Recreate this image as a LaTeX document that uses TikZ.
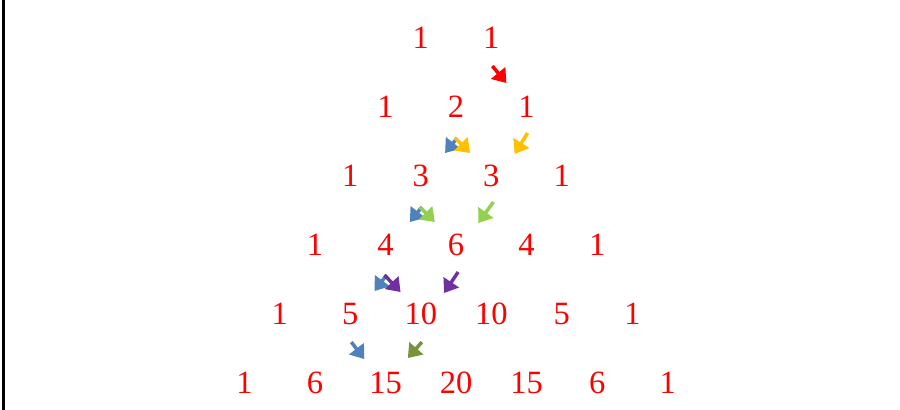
\documentclass[tikz,border=0pt]{standalone}
\usepackage{fontspec}
\setmainfont{Liberation Serif}
\usetikzlibrary{calc,arrows.meta}
\definecolor{arrblue}{HTML}{4F81BD}
\definecolor{arryellow}{HTML}{FFC000}
\definecolor{arrgreen}{HTML}{92D050}
\definecolor{arrpurple}{HTML}{7030A0}
\definecolor{arrolive}{HTML}{77933C}
\begin{document}
\begin{tikzpicture}[
    num/.style={text=red, font=\fontsize{18.5}{22}\selectfont, inner sep=0pt},
    arr/.style={line width=0.07cm, -{Triangle[length=0.26cm, width=0.36cm]}}]
    \useasboundingbox (0,0) rectangle (18,-8.2);
    \draw[line width=0.05cm] (0.07,0) -- (0.07,-8.2);
    % the rows of numbers
    \foreach \row [count=\r from 0] in {{1,1},{1,2,1},{1,3,3,1},{1,4,6,4,1},{1,5,10,10,5,1},{1,6,15,20,15,6,1}} {
        \foreach \v [count=\k from 0] in \row {
            \node[num] (n-\r-\k) at ({0.02*(456+70.5*(\k-(\r+1)/2))}, {-0.02*(38+69*\r)}) {\v};
        }
    }
    % arrows
    \draw[arr, red] ($(n-0-1)+(0.02,-0.56)$) -- ++(0.28,-0.34);
    \draw[arr, arrblue] ($(n-1-1)+(0.02,-0.62)$) -- ++(-0.24,-0.30);
    \draw[arr, arryellow] ($(n-1-1)+(-0.02,-0.62)$) -- ++(0.30,-0.30);
    \draw[arr, arryellow] ($(n-1-2)+(0.02,-0.52)$) -- ++(-0.26,-0.42);
    \draw[arr, arrblue] ($(n-2-1)+(0.02,-0.62)$) -- ++(-0.24,-0.30);
    \draw[arr, arrgreen] ($(n-2-1)+(-0.02,-0.62)$) -- ++(0.30,-0.30);
    \draw[arr, arrgreen] ($(n-2-2)+(0.04,-0.52)$) -- ++(-0.30,-0.42);
    \draw[arr, arrblue] ($(n-3-1)+(0.02,-0.60)$) -- ++(-0.24,-0.32);
    \draw[arr, arrpurple] ($(n-3-1)+(-0.02,-0.60)$) -- ++(0.32,-0.34);
    \draw[arr, arrpurple] ($(n-3-2)+(0.04,-0.54)$) -- ++(-0.28,-0.42);
    \draw[arr, arrblue] ($(n-4-1)+(0.02,-0.56)$) -- ++(0.26,-0.34);
    \draw[arr, arrolive] ($(n-4-2)+(0.02,-0.56)$) -- ++(-0.28,-0.32);
\end{tikzpicture}
\end{document}
